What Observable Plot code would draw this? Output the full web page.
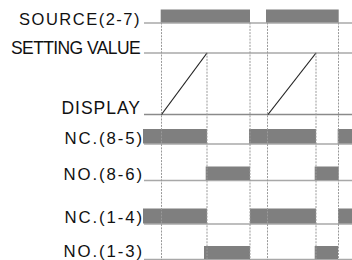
<!DOCTYPE html>
<html>
<head>
<meta charset="utf-8">
<script src="https://cdn.jsdelivr.net/npm/d3@7"></script>
<script src="https://cdn.jsdelivr.net/npm/@observablehq/plot@0.6"></script>
<style>
  html, body { margin: 0; padding: 0; background: #fff; }
  #chart svg { display: block; }
</style>
</head>
<body>
<div id="chart"></div>
<script>
// ---- Data (time units) ----
const signals = ["SOURCE(2-7)", "SETTING VALUE", "DISPLAY", "NC.(8-5)", "NO.(8-6)", "NC.(1-4)", "NO.(1-3)"];
const tStart = 0;
const tEnd = 208;
// high intervals [start, end] per signal
const sourceHigh = [[16.7, 106], [122, 194.7]];
const nc85High = [[-1, 63], [105, 172], [193.7, 208]];
const no86High = [[61.7, 106], [170.7, 194.7]];
const nc14High = [[-1, 63], [106, 172], [194, 208]];
const no13High = [[60, 106], [170.7, 194]];
// display ramps: [start time, time setting value reached]
const rampStart = [17, 123.5];
const rampEnd = [62.5, 171.5];
// event markers (dashed verticals)
const sourceEdges = [17, 105.5, 123, 194];
const reachEvents = [62.5, 171.5];

// ---- Layout (row baselines and bar heights in y-scale units; label styling) ----
const rowLevel = {"SOURCE(2-7)": 22.5, "SETTING VALUE": 52.5, "DISPLAY": 114, "NC.(8-5)": 143.5, "NO.(8-6)": 180, "NC.(1-4)": 223.5, "NO.(1-3)": 259};
const barH = {"SOURCE(2-7)": 13, "NC.(8-5)": 14.5, "NO.(8-6)": 13.5, "NC.(1-4)": 15, "NO.(1-3)": 13};
const labelStyle = {
  "SOURCE(2-7)":   {size: 16.5, ls: 1.5,  dx: -2.5, dy: 1.8},
  "SETTING VALUE": {size: 17.5, ls: -0.6, dx: -3.5, dy: 0.8},
  "DISPLAY":       {size: 17.5, ls: 1.0,  dx: -2.5, dy: -0.7},
  "NC.(8-5)":      {size: 16.8, ls: 1.9,  dx: 0.5,  dy: 0},
  "NO.(8-6)":      {size: 16.8, ls: 1.9,  dx: 0.5,  dy: -0.7},
  "NC.(1-4)":      {size: 16.8, ls: 1.9,  dx: 0.5,  dy: -0.8},
  "NO.(1-3)":      {size: 16.8, ls: 1.9,  dx: 0.5,  dy: -3}
};

const highs = [
  ["SOURCE(2-7)", sourceHigh],
  ["NC.(8-5)", nc85High],
  ["NO.(8-6)", no86High],
  ["NC.(1-4)", nc14High],
  ["NO.(1-3)", no13High]
];
const bars = highs.flatMap(([s, iv]) => iv.map(([a, b]) => ({signal: s, x1: a, x2: b, y1: rowLevel[s], y2: rowLevel[s] - barH[s]})));
const baselines = signals.map(s => ({signal: s, y: rowLevel[s]}));
const ramps = rampStart.map((a, i) => ({x1: a, x2: rampEnd[i], y1: rowLevel["DISPLAY"], y2: rowLevel["SETTING VALUE"]}));
const dashes = [
  ...sourceEdges.map(t => ({x: t, y1: rowLevel["SOURCE(2-7)"], y2: 260})),
  ...reachEvents.map(t => ({x: t, y1: rowLevel["SETTING VALUE"], y2: 260}))
];

const svg = Plot.plot({
  width: 352,
  height: 260,
  margin: 0,
  x: {domain: [-1, 208], range: [143, 352], axis: null},
  y: {domain: [0, 260], range: [0, 260], axis: null},
  marks: [
    Plot.ruleY(baselines, {y: "y", x1: tStart, x2: tEnd, stroke: d => d.signal === "DISPLAY" ? "#8a8a8a" : "#a8a8a8", strokeWidth: 1.6}),
    Plot.rect(bars, {x1: "x1", x2: "x2", y1: "y1", y2: "y2", fill: "#7f7f7f"}),
    Plot.link(ramps, {x1: "x1", y1: "y1", x2: "x2", y2: "y2", stroke: "#222", strokeWidth: 1.2}),
    Plot.ruleX(dashes, {x: "x", y1: "y1", y2: "y2", stroke: "#999", strokeWidth: 1, strokeDasharray: "2,1.2"}),
    Plot.text(baselines, {x: -1, y: "y", text: "signal", textAnchor: "end", lineAnchor: "bottom",
      fontSize: 16, fill: "#111", fontFamily: "Liberation Sans, Arial, sans-serif"})
  ]
});
d3.select(svg).selectAll("text").each(function() {
  const st = labelStyle[this.textContent];
  if (!st) return;
  this.style.letterSpacing = st.ls + "px";
  this.style.fontSize = st.size + "px";
  this.setAttribute("dx", st.dx);
  this.setAttribute("dy", st.dy);
});
document.getElementById("chart").append(svg);
</script>
</body>
</html>
